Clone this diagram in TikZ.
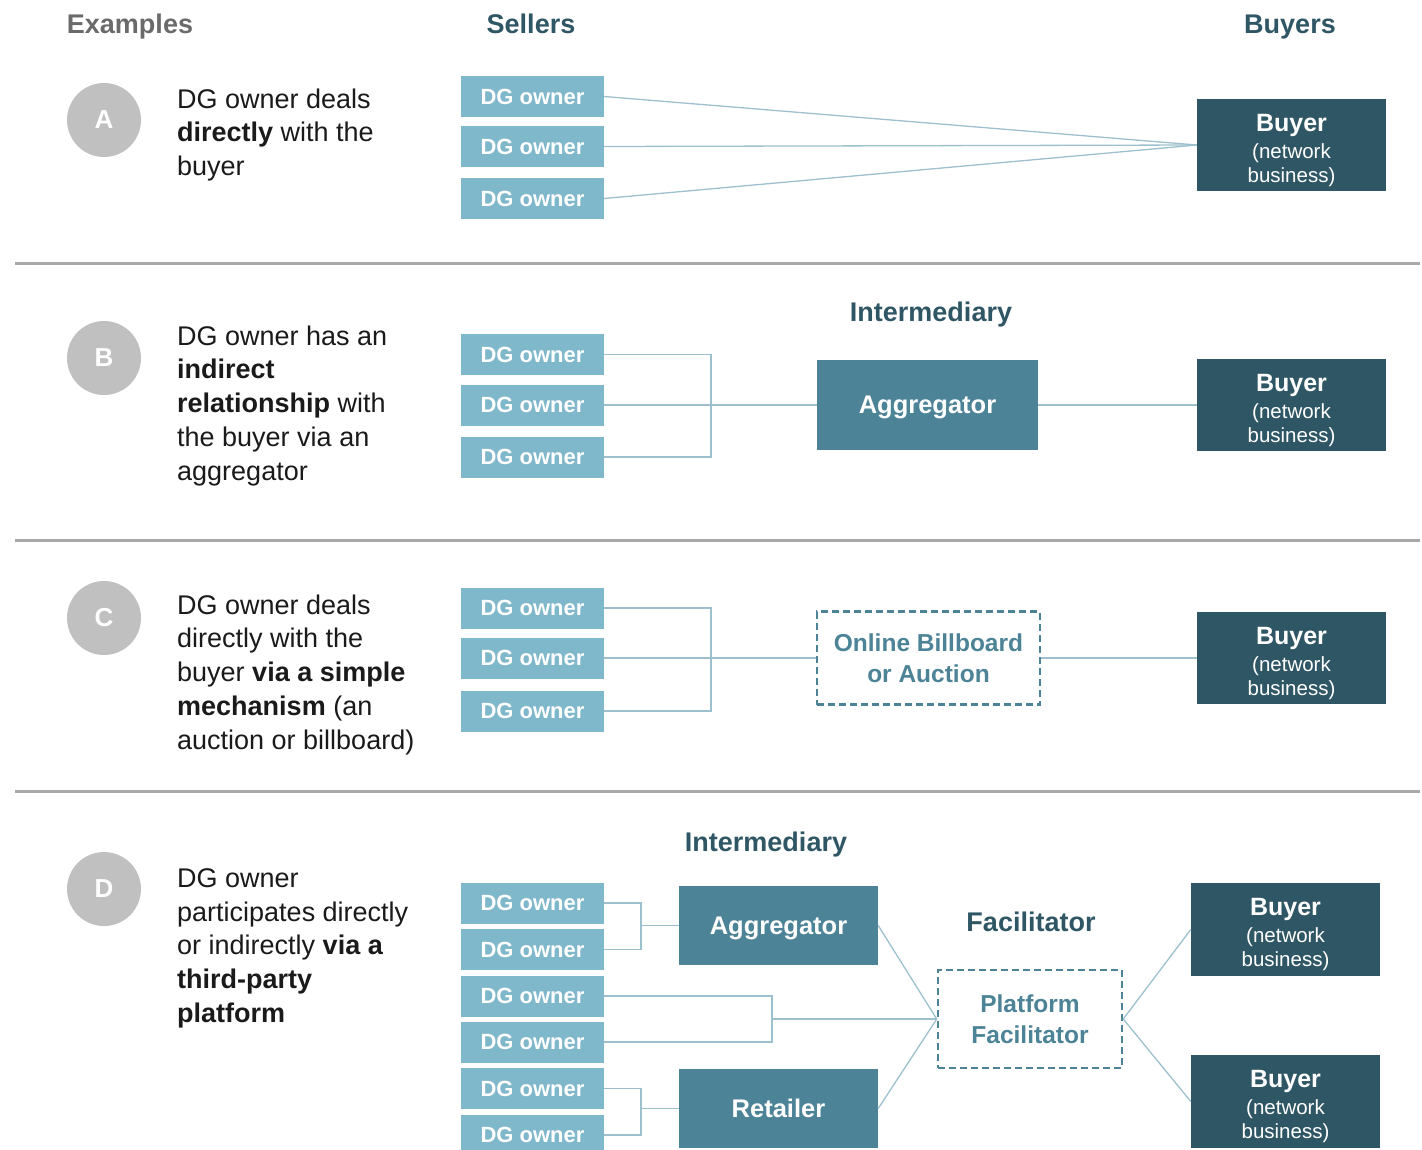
\documentclass[tikz,border=0pt]{standalone}
\usepackage{fontspec}
\setmainfont{Liberation Sans}

\definecolor{dgblue}{HTML}{7FB7CB}
\definecolor{midteal}{HTML}{4C8397}
\definecolor{darkteal}{HTML}{2F5664}
\definecolor{sepgray}{HTML}{A8A8A8}
\definecolor{linkcol}{HTML}{9CC0CD}
\definecolor{circgray}{HTML}{C0C0C0}
\definecolor{headgray}{HTML}{6A6A6A}
\definecolor{bodytext}{HTML}{1A1A1A}

\tikzset{
  dgbox/.style={rectangle, fill=dgblue, minimum width=143pt, minimum height=41pt,
    inner sep=0pt, text=white, font=\bfseries\fontsize{22}{26}\selectfont, text depth=0pt},
  buyerbox/.style={rectangle, fill=darkteal, minimum width=189pt, minimum height=92pt,
    inner sep=0pt, text=white, align=center, font=\fontsize{20.5}{24}\selectfont},
  midbox/.style={rectangle, fill=midteal, inner sep=0pt, text=white,
    font=\bfseries\fontsize{25.5}{30}\selectfont, text depth=0pt},
  dashbox/.style={rectangle, draw=midteal, dash pattern=on 7pt off 4pt, line width=2.5pt,
    inner sep=0pt, text=midteal, align=center, font=\bfseries\fontsize{24.5}{31}\selectfont},
  link/.style={draw=linkcol, line width=1.3pt},
  sepline/.style={draw=sepgray, line width=3pt},
  badge/.style={circle, fill=circgray, minimum size=74pt, inner sep=0pt, text=white,
    font=\bfseries\fontsize{26}{30}\selectfont},
  head/.style={anchor=base, inner sep=0pt, text=darkteal, font=\bfseries\fontsize{27}{32}\selectfont},
  desc/.style={anchor=north west, align=left, inner sep=0pt, text=bodytext,
    font=\fontsize{27}{33.7}\selectfont},
}
% three-line buyer label; the strut lowers the block inside its box
\newcommand{\buyerlabel}{{\bfseries\fontsize{25}{26}\selectfont\rule{0pt}{28pt}Buyer}\\[3pt](network\\business)}

\begin{document}
\begin{tikzpicture}[x=1pt,y=-1pt]
\useasboundingbox (0,0) rectangle (1422,1149);

% column headings
\node[head, text=headgray] (hEx) at (130,33) {Examples};
\node[head] (hSel) at (531,33) {Sellers};
\node[head] (hBuy) at (1290,33) {Buyers};

% section separators
\draw[sepline] (15,263) coordinate (s1a) -- (1420,263) coordinate (s1b);
\draw[sepline] (15,540) coordinate (s2a) -- (1420,540) coordinate (s2b);
\draw[sepline] (15,791) coordinate (s3a) -- (1420,791) coordinate (s3b);

% ---------- A: direct dealing ----------
\node[badge] (cA) at (104,120) {A};
\node[desc] (tA) at (177,88.5) {DG owner deals\\\textbf{directly} with the\\buyer};
\node[dgbox] (a1) at (532.5,96.5) {DG owner};
\node[dgbox] (a2) at (532.5,146.5) {DG owner};
\node[dgbox] (a3) at (532.5,198.5) {DG owner};
\node[buyerbox] (bA) at (1291.5,145) {\buyerlabel};
\draw[link] (a1.east) -- (bA.west);
\draw[link] (a2.east) -- (bA.west);
\draw[link] (a3.east) -- (bA.west);

% ---------- B: via aggregator ----------
\node[badge] (cB) at (104,358) {B};
\node[desc] (tB) at (177,325.5) {DG owner has an\\\textbf{indirect}\\\textbf{relationship} with\\the buyer via an\\aggregator};
\node[head] (hIntB) at (931,321) {Intermediary};
\node[dgbox] (b1) at (532.5,354.5) {DG owner};
\node[dgbox] (b2) at (532.5,405) {DG owner};
\node[dgbox] (b3) at (532.5,457) {DG owner};
\node[midbox, minimum width=221pt, minimum height=90pt] (aggB) at (927.5,405) {Aggregator};
\node[buyerbox] (bB) at (1291.5,405) {\buyerlabel};
\coordinate (jB) at (711,405);
\draw[link] (b1.east) -| (jB) |- (b3.east);
\draw[link] (b2.east) -- (aggB.west);
\draw[link] (aggB.east) -- (bB.west);

% ---------- C: simple mechanism ----------
\node[badge] (cC) at (104,618) {C};
\node[desc] (tC) at (177,594.5) {DG owner deals\\directly with the\\buyer \textbf{via a simple}\\\textbf{mechanism} (an\\auction or billboard)};
\node[dgbox] (c1) at (532.5,608) {DG owner};
\node[dgbox] (c2) at (532.5,658) {DG owner};
\node[dgbox] (c3) at (532.5,711) {DG owner};
\node[dashbox, minimum width=223pt, minimum height=93pt] (bill) at (928.5,658) {Online Billboard\\or Auction};
\node[buyerbox] (bC) at (1291.5,658) {\buyerlabel};
\coordinate (jC) at (711,658);
\draw[link] (c1.east) -| (jC) |- (c3.east);
\draw[link] (c2.east) -- (bill.west);
\draw[link] (bill.east) -- (bC.west);

% ---------- D: third-party platform ----------
\node[badge] (cD) at (104,889) {D};
\node[desc] (tD) at (177,868.5) {DG owner\\participates directly\\or indirectly \textbf{via a}\\\textbf{third-party}\\\textbf{platform}};
\node[head] (hIntD) at (766,851) {Intermediary};
\node[head] (hFac) at (1031,931) {Facilitator};
\node[dgbox] (d1) at (532.5,903) {DG owner};
\node[dgbox] (d2) at (532.5,949.5) {DG owner};
\node[dgbox] (d3) at (532.5,996) {DG owner};
\node[dgbox] (d4) at (532.5,1042) {DG owner};
\node[dgbox] (d5) at (532.5,1088.5) {DG owner};
\node[dgbox] (d6) at (532.5,1135) {DG owner};
\node[midbox, minimum width=199pt, minimum height=79pt] (aggD) at (778.5,925.5) {Aggregator};
\node[midbox, minimum width=199pt, minimum height=79pt] (ret) at (778.5,1108.5) {Retailer};
\node[dashbox, minimum width=184pt, minimum height=98pt] (plat) at (1030,1019) {Platform\\Facilitator};
\node[buyerbox, minimum height=93pt] (bD1) at (1285.5,929.5) {\buyerlabel};
\node[buyerbox, minimum height=93pt] (bD2) at (1285.5,1101.5) {\buyerlabel};
\coordinate (k1) at (641,925.5);
\coordinate (k2) at (772,1019);
\coordinate (k3) at (641,1108.5);
\draw[link] (d1.east) -| (k1) |- (d2.east);
\draw[link] (k1) -- (aggD.west);
\draw[link] (d3.east) -| (k2) |- (d4.east);
\draw[link] (k2) -- (plat.west);
\draw[link] (d5.east) -| (k3) |- (d6.east);
\draw[link] (k3) -- (ret.west);
\draw[link] (aggD.east) -- (plat.west);
\draw[link] (ret.east) -- (plat.west);
\draw[link] (plat.east) -- (bD1.west);
\draw[link] (plat.east) -- (bD2.west);
\end{tikzpicture}
\end{document}
